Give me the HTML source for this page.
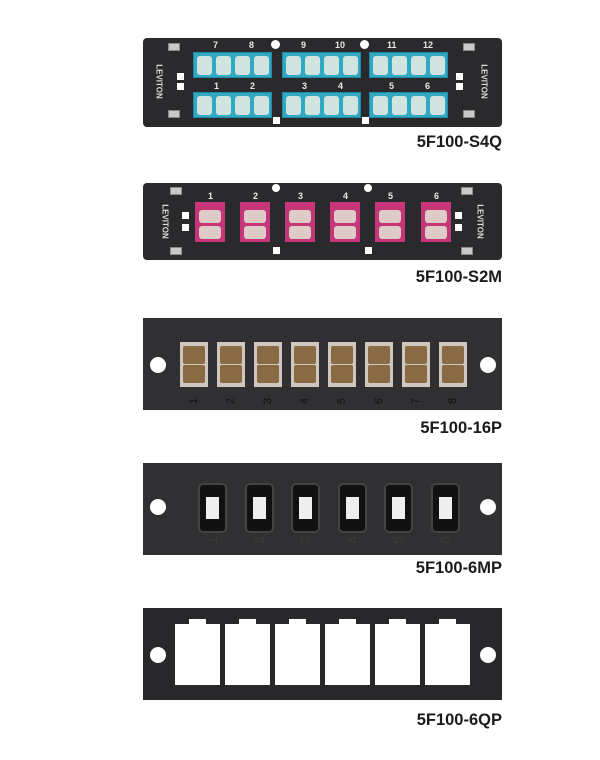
<!DOCTYPE html>
<html><head><meta charset="utf-8"><style>
body{margin:0;width:600px;height:760px;background:#fff;position:relative;overflow:hidden;font-family:"Liberation Sans",sans-serif}
div{position:absolute;box-sizing:border-box}
.pan{background:#2a2a2c}
.lbl{font-weight:bold;font-size:16.5px;color:#1a1a1a;right:98px}
.tb{background:#2fa9c4;height:26px;width:79px;border:1px solid #1e8aa3}
.tb i{position:absolute;top:3px;width:15px;height:19px;background:#cfe3df;border-radius:3px}
.n{color:#e8e8e8;font-size:9px;font-weight:bold}
.pk{background:#c7357a;width:30px;height:40px}
.pk i{position:absolute;left:4px;width:22px;height:13px;background:#dccbc6;border-radius:3px}
.bg{background:#cfc6bd;width:28px;height:45px}
.bg i{position:absolute;left:3px;width:22px;height:18px;background:#8a6a44;border-radius:2px}
.mp{background:#111;width:29px;height:50px;border-radius:5px;border:2px solid #444}
.mp i{position:absolute;left:6px;top:12px;width:13px;height:22px;background:#eee}
.qp{background:#fff;width:45px;height:61px}
.qp i{position:absolute;left:14px;top:-5px;width:17px;height:6px;background:#fff}
.h{background:#fff;border-radius:50%;width:16px;height:16px}
.sq{background:#fff;width:7px;height:7px}
.cl{background:#c9c9c9;width:12px;height:8px;border:1px solid #888}
.lev{color:#ddd;font-size:8px;font-weight:bold;transform:rotate(90deg);width:40px;text-align:center}
.gn{color:#111;font-size:11px;transform:rotate(-90deg)}
.gm{color:#3a3a3a;font-size:14px;transform:rotate(-90deg)}
</style></head><body>

<div class="pan" style="left:143px;top:38px;width:359px;height:89px;border-radius:4px"></div>
<div class="cl" style="left:168px;top:43px"></div><div class="cl" style="left:168px;top:110px"></div>
<div class="cl" style="left:463px;top:43px"></div><div class="cl" style="left:463px;top:110px"></div>
<div class="lev" style="left:139px;top:77px">LEVITON</div>
<div class="lev" style="left:464px;top:77px">LEVITON</div>
<div class="sq" style="left:177px;top:73px"></div><div class="sq" style="left:177px;top:83px"></div>
<div class="sq" style="left:456px;top:73px"></div><div class="sq" style="left:456px;top:83px"></div>
<div class="h" style="left:271px;top:40px;width:9px;height:9px"></div>
<div class="h" style="left:360px;top:40px;width:9px;height:9px"></div>
<div class="sq" style="left:273px;top:117px"></div><div class="sq" style="left:362px;top:117px"></div>
<div class="tb" style="left:193px;top:52px"><i style="left:3px"></i><i style="left:22px"></i><i style="left:41px"></i><i style="left:60px"></i></div>
<div class="tb" style="left:282px;top:52px"><i style="left:3px"></i><i style="left:22px"></i><i style="left:41px"></i><i style="left:60px"></i></div>
<div class="tb" style="left:369px;top:52px"><i style="left:3px"></i><i style="left:22px"></i><i style="left:41px"></i><i style="left:60px"></i></div>
<div class="tb" style="left:193px;top:92px"><i style="left:3px"></i><i style="left:22px"></i><i style="left:41px"></i><i style="left:60px"></i></div>
<div class="tb" style="left:282px;top:92px"><i style="left:3px"></i><i style="left:22px"></i><i style="left:41px"></i><i style="left:60px"></i></div>
<div class="tb" style="left:369px;top:92px"><i style="left:3px"></i><i style="left:22px"></i><i style="left:41px"></i><i style="left:60px"></i></div>
<div class="n" style="left:213px;top:40px">7</div><div class="n" style="left:249px;top:40px">8</div>
<div class="n" style="left:301px;top:40px">9</div><div class="n" style="left:335px;top:40px">10</div>
<div class="n" style="left:387px;top:40px">11</div><div class="n" style="left:423px;top:40px">12</div>
<div class="n" style="left:214px;top:81px">1</div><div class="n" style="left:250px;top:81px">2</div>
<div class="n" style="left:302px;top:81px">3</div><div class="n" style="left:338px;top:81px">4</div>
<div class="n" style="left:389px;top:81px">5</div><div class="n" style="left:425px;top:81px">6</div>
<div class="lbl" style="top:133px">5F100-S4Q</div>

<div class="pan" style="left:143px;top:183px;width:359px;height:77px;border-radius:4px"></div>
<div class="cl" style="left:170px;top:187px"></div><div class="cl" style="left:170px;top:247px"></div>
<div class="cl" style="left:461px;top:187px"></div><div class="cl" style="left:461px;top:247px"></div>
<div class="lev" style="left:145px;top:217px">LEVITON</div>
<div class="lev" style="left:460px;top:217px">LEVITON</div>
<div class="sq" style="left:182px;top:212px"></div><div class="sq" style="left:182px;top:224px"></div>
<div class="sq" style="left:455px;top:212px"></div><div class="sq" style="left:455px;top:224px"></div>
<div class="h" style="left:272px;top:184px;width:8px;height:8px"></div>
<div class="h" style="left:364px;top:184px;width:8px;height:8px"></div>
<div class="sq" style="left:273px;top:247px"></div><div class="sq" style="left:365px;top:247px"></div>
<div class="pk" style="left:195px;top:202px"><i style="top:8px"></i><i style="top:24px"></i></div>
<div class="pk" style="left:240px;top:202px"><i style="top:8px"></i><i style="top:24px"></i></div>
<div class="pk" style="left:285px;top:202px"><i style="top:8px"></i><i style="top:24px"></i></div>
<div class="pk" style="left:330px;top:202px"><i style="top:8px"></i><i style="top:24px"></i></div>
<div class="pk" style="left:375px;top:202px"><i style="top:8px"></i><i style="top:24px"></i></div>
<div class="pk" style="left:421px;top:202px"><i style="top:8px"></i><i style="top:24px"></i></div>
<div class="n" style="left:208px;top:191px">1</div><div class="n" style="left:253px;top:191px">2</div>
<div class="n" style="left:298px;top:191px">3</div><div class="n" style="left:343px;top:191px">4</div>
<div class="n" style="left:388px;top:191px">5</div><div class="n" style="left:434px;top:191px">6</div>
<div class="lbl" style="top:268px">5F100-S2M</div>

<div class="pan" style="left:143px;top:318px;width:359px;height:92px;background:#303033"></div>
<div class="h" style="left:150px;top:357px"></div><div class="h" style="left:480px;top:357px"></div>
<div class="bg" style="left:180px;top:342px"><i style="top:4px"></i><i style="top:23px"></i></div>
<div class="bg" style="left:217px;top:342px"><i style="top:4px"></i><i style="top:23px"></i></div>
<div class="bg" style="left:254px;top:342px"><i style="top:4px"></i><i style="top:23px"></i></div>
<div class="bg" style="left:291px;top:342px"><i style="top:4px"></i><i style="top:23px"></i></div>
<div class="bg" style="left:328px;top:342px"><i style="top:4px"></i><i style="top:23px"></i></div>
<div class="bg" style="left:365px;top:342px"><i style="top:4px"></i><i style="top:23px"></i></div>
<div class="bg" style="left:402px;top:342px"><i style="top:4px"></i><i style="top:23px"></i></div>
<div class="bg" style="left:439px;top:342px"><i style="top:4px"></i><i style="top:23px"></i></div>
<div class="gn" style="left:191px;top:395px">1</div><div class="gn" style="left:228px;top:395px">2</div>
<div class="gn" style="left:265px;top:395px">3</div><div class="gn" style="left:302px;top:395px">4</div>
<div class="gn" style="left:339px;top:395px">5</div><div class="gn" style="left:376px;top:395px">6</div>
<div class="gn" style="left:413px;top:395px">7</div><div class="gn" style="left:450px;top:395px">8</div>
<div class="lbl" style="top:419px">5F100-16P</div>

<div class="pan" style="left:143px;top:463px;width:359px;height:92px;background:#303033"></div>
<div class="h" style="left:150px;top:499px"></div><div class="h" style="left:480px;top:499px"></div>
<div class="mp" style="left:198px;top:483px"><i></i></div>
<div class="mp" style="left:245px;top:483px"><i></i></div>
<div class="mp" style="left:291px;top:483px"><i></i></div>
<div class="mp" style="left:338px;top:483px"><i></i></div>
<div class="mp" style="left:384px;top:483px"><i></i></div>
<div class="mp" style="left:431px;top:483px"><i></i></div>
<div class="gm" style="left:208px;top:532px">1</div><div class="gm" style="left:255px;top:532px">2</div>
<div class="gm" style="left:301px;top:532px">3</div><div class="gm" style="left:348px;top:532px">4</div>
<div class="gm" style="left:394px;top:532px">5</div><div class="gm" style="left:441px;top:532px">6</div>
<div class="lbl" style="top:559px">5F100-6MP</div>

<div class="pan" style="left:143px;top:608px;width:359px;height:92px;background:#28282a"></div>
<div class="h" style="left:150px;top:647px"></div><div class="h" style="left:480px;top:647px"></div>
<div class="qp" style="left:175px;top:624px"><i></i></div>
<div class="qp" style="left:225px;top:624px"><i></i></div>
<div class="qp" style="left:275px;top:624px"><i></i></div>
<div class="qp" style="left:325px;top:624px"><i></i></div>
<div class="qp" style="left:375px;top:624px"><i></i></div>
<div class="qp" style="left:425px;top:624px"><i></i></div>
<div class="lbl" style="top:711px">5F100-6QP</div>

</body></html>
